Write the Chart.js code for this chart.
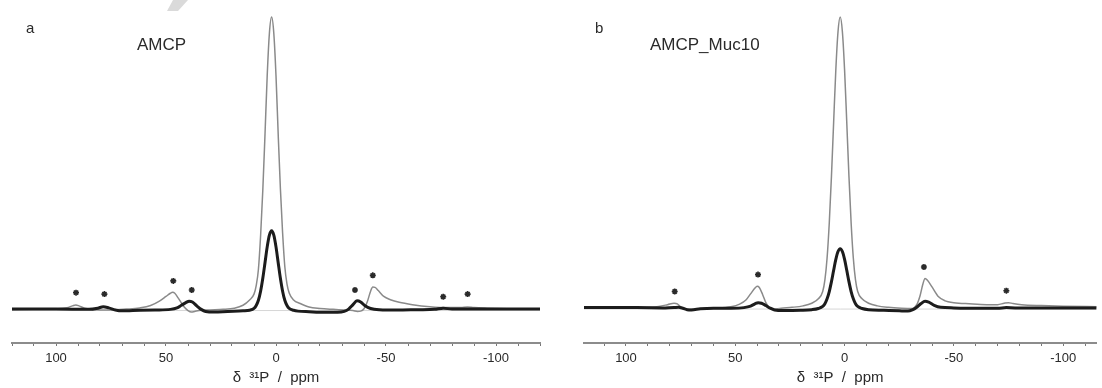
<!DOCTYPE html>
<html>
<head>
<meta charset="utf-8">
<script src="https://cdn.jsdelivr.net/npm/chart.js@4.4.1/dist/chart.umd.min.js"></script>
<style>
  html, body { margin: 0; padding: 0; background: #fff; }
  #wrap { position: relative; width: 1102px; height: 388px; }
  #wrap canvas { position: absolute; top: 0; }
</style>
</head>
<body>
<div id="wrap">
  <canvas id="chartA" width="551" height="388" style="left:0"></canvas>
  <canvas id="chartB" width="551" height="388" style="left:551px"></canvas>
</div>
<script>
// panel a: AMCP (ppm, intensity with the direct 31P peak = 100)
const ppmGrayA = [120, 110, 100, 95, 92.5, 91, 89.5, 87, 84, 80, 75, 68, 62, 57, 53, 50, 48, 47, 46, 44.5,
  43, 41.5, 40, 38.5, 37, 35, 30, 24, 19, 15, 12, 10, 9, 8, 7, 6, 5, 4, 3, 2,
  1, 0, -1, -2, -3, -4, -5, -6, -8, -11, -15, -20, -26, -31, -35, -37, -38.5, -40, -41.5, -43,
  -44, -45, -46.5, -49, -52, -56, -62, -70, -78, -84, -87, -90, -96, -105, -120];
const grayA = [0.3, 0.4, 0.6, 1.0, 1.6, 1.9, 1.6, 0.8, 0.4, 0.2, 0.2, 0.5, 0.9, 1.7, 3.2, 4.8, 5.9, 6.2, 5.9, 4.3,
  2.6, 1.0, 0.0, -0.5, -0.3, 0, 0.2, 0.4, 0.8, 1.8, 3.6, 5.6, 8.5, 14, 25.5, 41, 60, 80, 94.5, 100,
  94.5, 80, 60, 41.5, 26.5, 15, 9, 6, 3.6, 2.4, 1.2, 0.7, 0.4, 0.2, 0, -0.3, -0.2, 0.6, 3.0, 6.6,
  8.0, 7.9, 6.8, 4.8, 3.7, 2.8, 2.0, 1.3, 1.0, 1.0, 1.2, 1.0, 0.8, 0.6, 0.4];
const ppmBlackA = [120, 100, 85, 81, 78.5, 76, 73, 70, 65, 55, 48, 45, 43, 41, 39.5, 38, 36, 34, 32, 28,
  22, 15, 12, 10, 9, 8, 7, 6, 5, 4, 3, 2, 1, 0, -1, -2, -3, -4, -5, -6,
  -8, -10, -15, -22, -28, -31, -33, -35, -36.8, -38.5, -40.5, -43, -47, -55, -65, -72, -76, -80, -90, -105, -120];
const blackA = [0.5, 0.5, 0.4, 0.8, 1.3, 0.9, 0.2, -0.1, 0, 0.2, 0.4, 0.9, 1.8, 2.7, 3.2, 2.9, 1.6, 0.4, -0.3, -0.5,
  -0.3, -0.1, 0.1, 0.7, 1.7, 3.5, 6.6, 11, 16.3, 21.7, 25.7, 27.2, 25.7, 21.7, 16.3, 11, 6.6, 3.5, 1.7, 0.7,
  0.1, -0.2, -0.4, -0.6, -0.6, -0.3, 0.5, 2.0, 3.3, 2.9, 1.6, 0.7, 0.3, 0.2, 0.3, 0.4, 0.8, 0.5, 0.5, 0.5, 0.5];
const starPpmA = [90.9, 78, 46.7, 38.3, -35.9, -44, -76, -87.1];
const starYA = [6.1, 5.6, 10.1, 7.0, 7.0, 12.0, 4.7, 5.6];

// panel b: AMCP_Muc10
const ppmGrayB = [120, 100, 90, 85, 81, 78, 76.5, 75, 73.5, 70, 65, 60, 52, 48, 45, 43, 41, 40, 39, 37.5,
  36, 34.5, 33, 29, 24, 19, 15, 12, 10, 9, 8, 7, 6, 5, 4, 3, 2, 1, 0, -1,
  -2, -3, -4, -5, -6, -8, -11, -15, -20, -26, -31, -33, -34.5, -35.8, -36.8, -38, -40, -43, -46, -50,
  -57, -65, -70, -73, -75, -77, -81, -90, -100, -116];
const grayB = [0.4, 0.4, 0.5, 0.9, 1.5, 2.0, 1.8, 0.8, 0.1, -0.1, 0.1, 0.3, 0.8, 1.7, 3.2, 5.2, 7.2, 7.8, 7.4, 5.0,
  2.2, 0.5, -0.1, 0.3, 0.6, 1.1, 2.0, 3.5, 6.0, 10, 17.5, 29.5, 45.5, 64, 82, 95, 100, 95, 82, 64,
  45.5, 29.5, 17.5, 10, 6, 3.5, 2.0, 1.1, 0.6, 0.3, 0.2, 1.5, 4.5, 8.5, 10.5, 9.8, 7.6, 4.2, 2.8, 2.2,
  1.8, 1.5, 1.5, 2.0, 2.2, 1.9, 1.5, 1.2, 1.0, 0.8];
const ppmBlackB = [120, 95, 82, 78, 76, 74, 72, 70, 66, 60, 52, 46, 43, 41, 39.5, 38, 36, 34, 32, 28,
  20, 15, 12, 10, 9, 8, 7, 6, 5, 4, 3, 2, 1, 0, -1, -2, -3, -4, -5, -6,
  -8, -11, -18, -25, -29, -31, -33, -35, -36.8, -38.5, -41, -44, -50, -60, -70, -74, -78, -90, -116];
const blackB = [0.5, 0.5, 0.4, 0.5, 0.6, 0.3, -0.2, -0.3, 0.1, 0.3, 0.3, 0.5, 1.0, 1.8, 2.2, 2.0, 1.2, 0.3, -0.3, -0.5,
  -0.4, -0.2, 0.2, 0.9, 1.8, 3.5, 6.0, 9.4, 13.3, 17, 19.7, 20.7, 19.7, 17, 13.3, 9.4, 6.0, 3.5, 1.8, 0.9,
  0.2, -0.2, -0.4, -0.6, -0.7, -0.3, 0.6, 1.9, 2.7, 2.4, 1.3, 0.6, 0.4, 0.3, 0.3, 0.5, 0.4, 0.4, 0.4];
const starPpmB = [77.7, 39.6, -36.3, -74];
const starYB = [6.0, 11.8, 14.4, 6.3];

const majorTicks = [100, 50, 0, -50, -100];
const axisTitle = "δ  ³¹P  /  ppm";
const FONT = "'Liberation Sans', Arial, sans-serif";

const toPoints = (xs, ys) => xs.map((x, i) => ({ x: x, y: ys[i] }));

// panel letters and sample names
const panelText = {
  id: "panelText",
  afterDraw(chart, args, o) {
    const ctx = chart.ctx;
    ctx.save();
    if (o.slash) {
      ctx.fillStyle = "#dadada";
      ctx.beginPath();
      ctx.moveTo(173, 0); ctx.lineTo(188, 0); ctx.lineTo(178, 11); ctx.lineTo(167, 11);
      ctx.closePath();
      ctx.fill();
    }
    ctx.fillStyle = "#2a2a2a";
    ctx.textBaseline = "alphabetic";
    ctx.font = "15px " + FONT;
    ctx.fillText(o.letter, o.letterX, 33);
    ctx.font = "17px " + FONT;
    ctx.fillText(o.name, o.nameX, 50);
    ctx.restore();
  }
};

function makeChart(id, gray, black, stars, xmin, xmax, ymin, ymax, padL, padR, text) {
  return new Chart(document.getElementById(id).getContext("2d"), {
    type: "line",
    data: {
      datasets: [
        { data: stars, showLine: false, pointStyle: "star", pointRadius: 3,
          borderColor: "#2a2a2a", borderWidth: 1.6, order: 0 },
        { data: black, borderColor: "#1c1c1c", borderWidth: 3, pointRadius: 0,
          cubicInterpolationMode: "monotone", order: 1 },
        { data: gray, borderColor: "#8a8a8a", borderWidth: 1.5, pointRadius: 0,
          cubicInterpolationMode: "monotone", order: 2 },
        { data: [{ x: xmin, y: 0 }, { x: xmax, y: 0 }], borderColor: "#d6d6d6",
          borderWidth: 1, pointRadius: 0, order: 3 }
      ]
    },
    options: {
      responsive: false,
      animation: false,
      events: [],
      layout: { padding: { left: padL, right: padR, top: 0, bottom: 0 } },
      plugins: { legend: { display: false }, tooltip: { enabled: false }, panelText: text },
      scales: {
        x: {
          type: "linear",
          reverse: true,
          min: xmin,
          max: xmax,
          afterFit: (s) => { s.height = 45; },
          border: { display: true, color: "#8c8c8c", width: 2 },
          grid: { drawOnChartArea: false, drawTicks: true, tickLength: 3, color: "#777", tickWidth: 1 },
          ticks: {
            stepSize: 10, autoSkip: false, includeBounds: false, maxRotation: 0, padding: 5,
            color: "#2a2a2a", font: { family: FONT, size: 13 },
            callback: (v) => majorTicks.includes(Math.round(v)) ? String(Math.round(v)) : ""
          },
          title: { display: true, text: axisTitle, color: "#2a2a2a",
            font: { family: FONT, size: 15 }, padding: { top: 0, bottom: 1 } }
        },
        y: { display: false, min: ymin, max: ymax }
      }
    },
    plugins: [panelText]
  });
}

makeChart("chartA", toPoints(ppmGrayA, grayA), toPoints(ppmBlackA, blackA), toPoints(starPpmA, starYA),
  -120, 120, -11.06, 103.92, 12, 11,
  { letter: "a", letterX: 26, name: "AMCP", nameX: 137, slash: true });
makeChart("chartB", toPoints(ppmGrayB, grayB), toPoints(ppmBlackB, blackB), toPoints(starPpmB, starYB),
  -115.2, 119.2, -11.62, 103.94, 33, 0,
  { letter: "b", letterX: 44, name: "AMCP_Muc10", nameX: 99, slash: false });
</script>
</body>
</html>
